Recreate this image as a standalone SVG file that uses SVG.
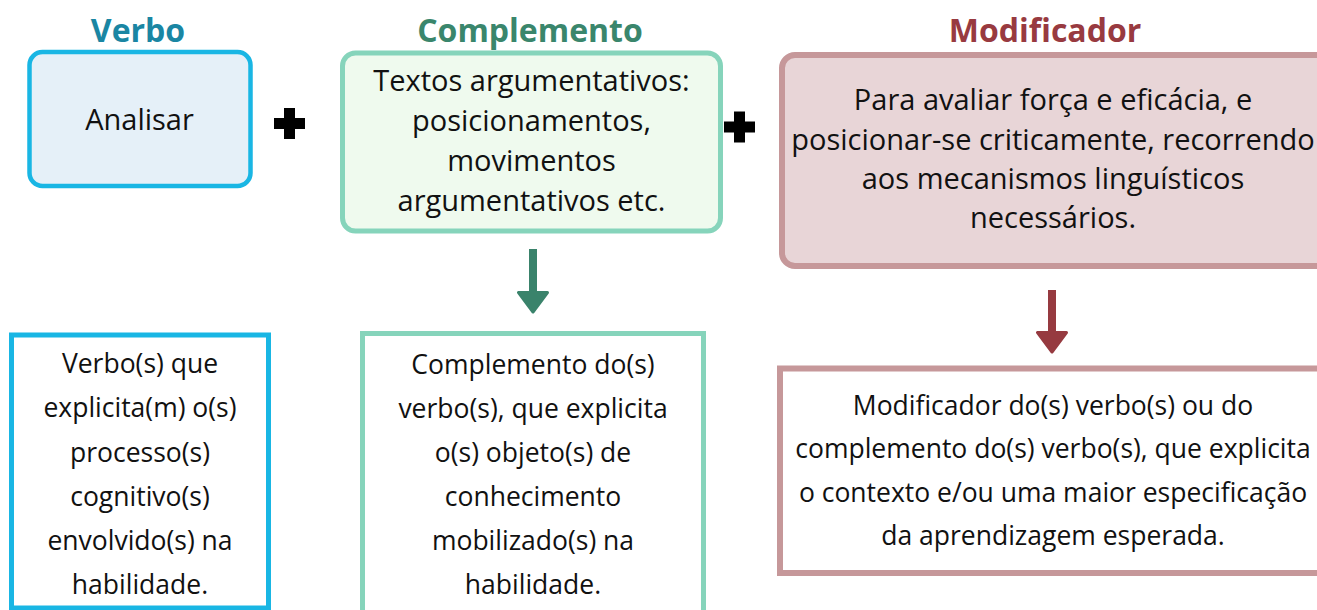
<svg xmlns="http://www.w3.org/2000/svg" width="1317" height="610" viewBox="0 0 1317 610">
<style>
  .title { font-family: "Open Sans", "Liberation Sans", sans-serif; font-weight: bold; font-size: 32px; text-anchor: middle; }
  .big { font-family: "Open Sans", "Liberation Sans", sans-serif; font-size: 29px; text-anchor: middle; fill: #111; }
  .small { font-family: "Open Sans", "Liberation Sans", sans-serif; font-size: 26.5px; text-anchor: middle; fill: #111; }
  .blue { fill: #e5f0f8; stroke: #19b6e4; stroke-width: 4.5; }
  .green { fill: #effaee; stroke: #86d4bb; stroke-width: 5; }
  .red { fill: #e8d5d7; stroke: #c6989a; stroke-width: 6; }
  .blueB { fill: #ffffff; stroke: #19b6e4; stroke-width: 5; }
  .greenB { fill: #ffffff; stroke: #86d4bb; stroke-width: 5; }
  .redB { fill: #ffffff; stroke: #c6989a; stroke-width: 6; }
</style>
<defs>
  <marker id="headG" markerUnits="userSpaceOnUse" viewBox="0 0 24 36" markerWidth="24" markerHeight="36" refX="1" refY="18" orient="auto">
    <path d="M1.5,3.5 L21,18 L1.5,32.5 Z" fill="#3a836b" stroke="#3a836b" stroke-width="3" stroke-linejoin="round"/>
  </marker>
  <marker id="headR" markerUnits="userSpaceOnUse" viewBox="0 0 24 36" markerWidth="24" markerHeight="36" refX="1" refY="18" orient="auto">
    <path d="M1.5,3.5 L21,18 L1.5,32.5 Z" fill="#963a40" stroke="#963a40" stroke-width="3" stroke-linejoin="round"/>
  </marker>
  <path id="plus" d="M-5.5,-15.5 H5.5 V-5.5 H15.5 V5.5 H5.5 V15.5 H-5.5 V5.5 H-15.5 V-5.5 H-5.5 Z" fill="#000"/>
</defs>

<g id="verbo">
  <text class="title" x="138" y="42" fill="#1a86a3">Verbo</text>
  <rect class="blue" x="29.5" y="52" width="221" height="134" rx="13"/>
  <text class="big" x="139.5" y="130">Analisar</text>
</g>

<g id="plus1"><use href="#plus" x="289.5" y="123.5"/></g>

<g id="complemento">
  <text class="title" x="530" y="42" fill="#3a866c">Complemento</text>
  <rect class="green" x="342.5" y="53" width="378" height="178" rx="13"/>
  <text class="big" x="531.5" y="91">Textos argumentativos:</text>
  <text class="big" x="531.5" y="131">posicionamentos,</text>
  <text class="big" x="531.5" y="171">movimentos</text>
  <text class="big" x="531.5" y="211">argumentativos etc.</text>
</g>

<g id="plus2"><use href="#plus" x="739.5" y="127"/></g>

<g id="modificador">
  <text class="title" x="1045" y="42" fill="#983a40">Modificador</text>
  <rect class="red" x="782" y="55" width="560" height="211" rx="13"/>
  <text class="big" x="1053" y="110">Para avaliar força e eficácia, e</text>
  <text class="big" x="1053" y="150">posicionar-se criticamente, recorrendo</text>
  <text class="big" x="1053" y="189">aos mecanismos linguísticos</text>
  <text class="big" x="1053" y="228">necessários.</text>
</g>

<g id="desc-verbo">
  <rect class="blueB" x="11.5" y="335" width="257" height="273"/>
  <text class="small" x="140" y="373">Verbo(s) que</text>
  <text class="small" x="140" y="417">explicita(m) o(s)</text>
  <text class="small" x="140" y="461.5">processo(s)</text>
  <text class="small" x="140" y="506">cognitivo(s)</text>
  <text class="small" x="140" y="550">envolvido(s) na</text>
  <text class="small" x="140" y="594">habilidade.</text>
</g>

<g id="desc-complemento">
  <rect class="greenB" x="362.5" y="333.5" width="341" height="290"/>
  <text class="small" x="533" y="374">Complemento do(s)</text>
  <text class="small" x="533" y="418">verbo(s), que explicita</text>
  <text class="small" x="533" y="462">o(s) objeto(s) de</text>
  <text class="small" x="533" y="506">conhecimento</text>
  <text class="small" x="533" y="550">mobilizado(s) na</text>
  <text class="small" x="533" y="594">habilidade.</text>
</g>

<g id="desc-modificador">
  <rect class="redB" x="780" y="368.5" width="560" height="204.5"/>
  <text class="small" x="1053" y="415">Modificador do(s) verbo(s) ou do</text>
  <text class="small" x="1053" y="458">complemento do(s) verbo(s), que explicita</text>
  <text class="small" x="1053" y="502">o contexto e/ou uma maior especificação</text>
  <text class="small" x="1053" y="545">da aprendizagem esperada.</text>
</g>

<g id="connectors">
  <line x1="533" y1="249" x2="533" y2="292" stroke="#3a836b" stroke-width="8" marker-end="url(#headG)"/>
  <line x1="1052" y1="290" x2="1052" y2="332" stroke="#963a40" stroke-width="8" marker-end="url(#headR)"/>
</g>
</svg>
